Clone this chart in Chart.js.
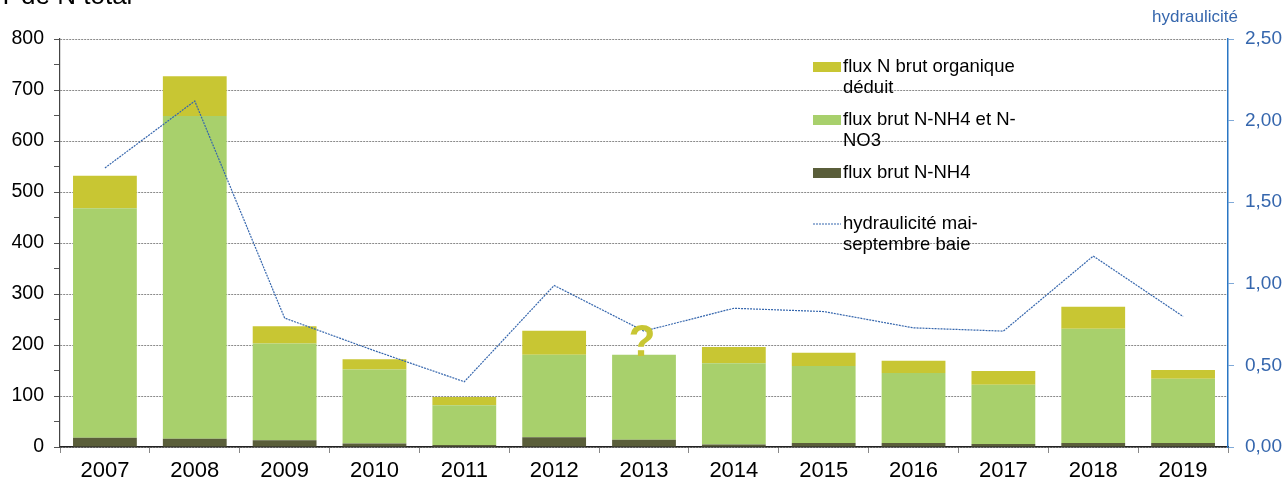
<!DOCTYPE html>
<html>
<head>
<meta charset="utf-8">
<script src="https://cdn.jsdelivr.net/npm/chart.js@4/dist/chart.umd.min.js"></script>
<style>
  html, body { margin: 0; padding: 0; background: #fff; }
  #graphe { display: block; }
</style>
</head>
<body>
<canvas id="graphe" width="1283" height="482"></canvas>
<script>
// valeurs (T de N total)
const annees = ['2007', '2008', '2009', '2010', '2011', '2012', '2013', '2014', '2015', '2016', '2017', '2018', '2019'];
const fluxNH4 = [18, 16, 13, 7, 4, 19, 14, 5, 8, 8, 6, 8, 8];
const fluxNH4NO3 = [450, 633, 190, 145, 78, 162, 167, 159, 151, 137, 116, 224, 126];
const fluxOrganique = [64, 78, 34, 20, 16, 47, null, 32, 26, 24, 27, 43, 17];
const hydraulicite = [1.71, 2.12, 0.79, 0.59, 0.40, 0.99, 0.71, 0.85, 0.83, 0.73, 0.71, 1.17, 0.80];
const anneeIncertaine = '2013';

// libellés de la légende, découpés comme dans l'original
const legendeLignes = [
    ['flux N brut organique', 'déduit'],
    ['flux brut N-NH4 et N-', 'NO3'],
    ['flux brut N-NH4'],
    ['hydraulicité mai-', 'septembre baie']
];

const bleu = '#3566ad';
Chart.defaults.font.family = '"Liberation Sans", Arial, sans-serif';

const fmtVirgule = (v) => v.toFixed(2).replace('.', ',');

// titre, légende et point d'interrogation dessinés à la main
const decor = {
    id: 'decor',
    afterDatasetsDraw(chart) {
        const ctx = chart.ctx;
        const x = chart.scales.x, y = chart.scales.y;
        ctx.save();

        ctx.fillStyle = '#000';
        ctx.font = '26px "Liberation Sans", Arial, sans-serif';
        ctx.textAlign = 'left';
        ctx.textBaseline = 'alphabetic';
        ctx.fillText('T de N total', -2, 4);

        ctx.fillStyle = bleu;
        ctx.font = '17px "Liberation Sans", Arial, sans-serif';
        ctx.textBaseline = 'middle';
        ctx.fillText('hydraulicité', 1152, 17);

        // "?" au-dessus de la barre 2013
        const i = annees.indexOf(anneeIncertaine);
        const haut = (fluxNH4[i] || 0) + (fluxNH4NO3[i] || 0) + (fluxOrganique[i] || 0);
        ctx.fillStyle = '#c8c633';
        ctx.font = 'bold 44px "Liberation Sans", Arial, sans-serif';
        ctx.textAlign = 'center';
        ctx.textBaseline = 'alphabetic';
        ctx.fillText('?', x.getPixelForValue(i) - 2, y.getPixelForValue(haut) + 1);

        // légende
        const items = [3, 2, 1, 0].map(k => chart.data.datasets[k]);
        const lignesY = [[67, 88], [120, 141], [173], [224, 245]];
        ctx.font = '18.5px "Liberation Sans", Arial, sans-serif';
        ctx.textAlign = 'left';
        ctx.textBaseline = 'middle';
        items.forEach((ds, n) => {
            const y0 = lignesY[n][0];
            if (ds.type === 'line') {
                ctx.strokeStyle = ds.borderColor;
                ctx.lineWidth = 1.2;
                ctx.setLineDash([2, 1]);
                ctx.beginPath();
                ctx.moveTo(813, y0);
                ctx.lineTo(841, y0);
                ctx.stroke();
                ctx.setLineDash([]);
            } else {
                ctx.fillStyle = ds.backgroundColor;
                ctx.fillRect(813, y0 - 5, 28, 10);
            }
            ctx.fillStyle = '#000';
            legendeLignes[n].forEach((t, k) => ctx.fillText(t, 843, lignesY[n][k]));
        });
        ctx.restore();
    }
};

new Chart(document.getElementById('graphe'), {
    type: 'bar',
    data: {
        labels: annees,
        datasets: [
            {
                type: 'line',
                label: 'hydraulicité mai-septembre baie',
                data: hydraulicite,
                yAxisID: 'y2',
                borderColor: bleu,
                borderWidth: 1.2,
                borderDash: [2, 1],
                pointRadius: 0,
                tension: 0,
                order: 0
            },
            {
                label: 'flux brut N-NH4',
                data: fluxNH4,
                backgroundColor: '#5a5e3a',
                stack: 'flux',
                order: 1
            },
            {
                label: 'flux brut N-NH4 et N-NO3',
                data: fluxNH4NO3,
                backgroundColor: '#a8d06c',
                stack: 'flux',
                order: 1
            },
            {
                label: 'flux N brut organique déduit',
                data: fluxOrganique,
                backgroundColor: '#c8c633',
                stack: 'flux',
                order: 1
            }
        ]
    },
    options: {
        responsive: false,
        animation: false,
        devicePixelRatio: 1,
        barPercentage: 0.71,
        categoryPercentage: 1,
        layout: { padding: { top: 39, left: 0, right: 0, bottom: 0 } },
        plugins: {
            legend: { display: false },
            tooltip: { enabled: false }
        },
        scales: {
            x: {
                stacked: true,
                afterFit: (s) => { s.height = 35; },
                grid: { display: true, drawOnChartArea: false, offset: true, tickLength: 6, tickColor: '#888' },
                border: { color: '#222', width: 1.5 },
                ticks: { color: '#000', font: { size: 22 }, padding: 5 }
            },
            y: {
                stacked: true,
                min: 0,
                max: 800,
                afterFit: (s) => { s.width = 60; },
                grid: {
                    color: (c) => (c.tick && c.tick.value % 100 === 0) ? '#8a8a8a' : 'rgba(0,0,0,0)',
                    tickColor: '#555',
                    tickLength: 6,
                    lineWidth: 1
                },
                border: { color: '#444', width: 1.2, dash: [2, 1] },
                ticks: {
                    stepSize: 50,
                    autoSkip: false,
                    color: '#000',
                    font: { size: 19.5 },
                    padding: 10,
                    callback: (v) => v % 100 === 0 ? v : ''
                }
            },
            y2: {
                position: 'right',
                min: 0,
                max: 2.5,
                afterFit: (s) => { s.width = 55; },
                grid: { drawOnChartArea: false, tickColor: '#7fa9d8', tickLength: 6 },
                border: { color: '#2a76c4', width: 1.5 },
                ticks: {
                    stepSize: 0.5,
                    color: bleu,
                    font: { size: 19 },
                    padding: 11,
                    callback: (v) => fmtVirgule(v)
                }
            }
        }
    },
    plugins: [decor]
});
</script>
</body>
</html>
